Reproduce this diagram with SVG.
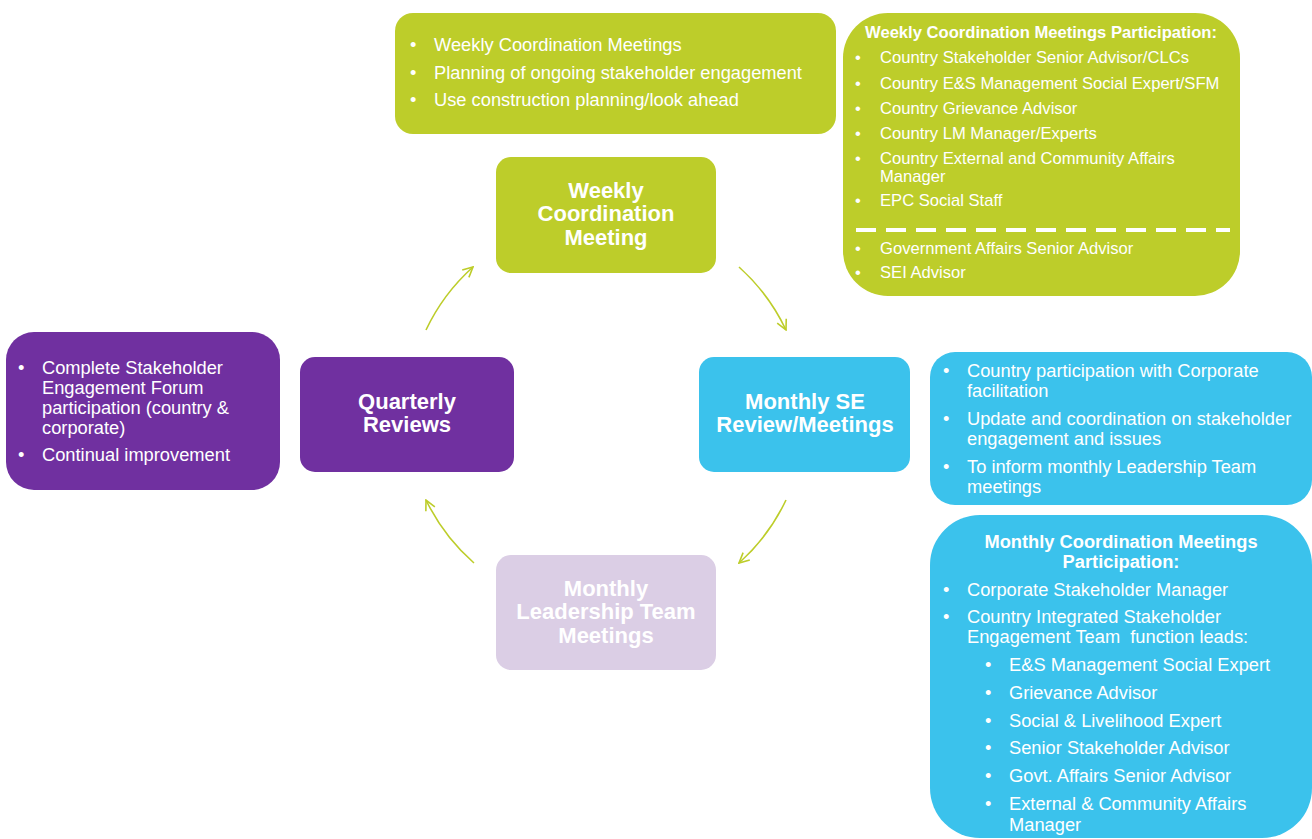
<svg xmlns="http://www.w3.org/2000/svg" width="1312" height="839" viewBox="0 0 1312 839">
<defs>
<style>
.t{font-family:"Liberation Sans",Arial,sans-serif;fill:#fff;font-size:18.3px}
.b{font-weight:bold}
.n{font-family:"Liberation Sans",Arial,sans-serif;fill:#fff;font-size:22px;font-weight:bold;text-anchor:middle}
.p{font-size:16.6px}
.lime{fill:#BDCD2A}
.purple{fill:#7030A0}
.blue{fill:#3BC2EC}
.lav{fill:#DBCEE5}
.arc{fill:none;stroke:#BDCD2A;stroke-width:1.6}
</style>
<marker id="ah" viewBox="0 0 12 12" refX="11" refY="6" markerWidth="12" markerHeight="12" markerUnits="userSpaceOnUse" orient="auto">
<path d="M1,1 L11,6 L1,11" fill="none" stroke="#BDCD2A" stroke-width="1.6"/>
</marker>
</defs>
<rect width="1312" height="839" fill="#fff"/>

<g id="connectors">
<path class="arc" d="M426,330 A199,199 0 0 1 473,267" marker-end="url(#ah)"/>
<path class="arc" d="M739,267 A199,199 0 0 1 786,330" marker-end="url(#ah)"/>
<path class="arc" d="M786,500 A199,199 0 0 1 739,563" marker-end="url(#ah)"/>
<path class="arc" d="M474,563 A199,199 0 0 1 426,500" marker-end="url(#ah)"/>
</g>

<g id="weekly-notes">
<rect class="lime" x="395" y="13" width="441" height="121" rx="18"/>
<text class="t"><tspan x="410" y="51">•</tspan><tspan x="434" y="51">Weekly Coordination Meetings</tspan></text>
<text class="t"><tspan x="410" y="79">•</tspan><tspan x="434" y="79">Planning of ongoing stakeholder engagement</tspan></text>
<text class="t"><tspan x="410" y="106">•</tspan><tspan x="434" y="106">Use construction planning/look ahead</tspan></text>
</g>

<g id="weekly-participation">
<rect class="lime" x="843" y="13" width="397" height="283" rx="45"/>
<text class="t b p" x="1041" y="38" text-anchor="middle">Weekly Coordination Meetings Participation:</text>
<g class="t p">
<text x="855" y="63">•</text><text x="880" y="63">Country Stakeholder Senior Advisor/CLCs</text>
<text x="855" y="89">•</text><text x="880" y="89">Country E&amp;S Management Social Expert/SFM</text>
<text x="855" y="114">•</text><text x="880" y="114">Country Grievance Advisor</text>
<text x="855" y="139">•</text><text x="880" y="139">Country LM Manager/Experts</text>
<text x="855" y="164">•</text><text x="880" y="164">Country External and Community Affairs</text>
<text x="880" y="182">Manager</text>
<text x="855" y="206">•</text><text x="880" y="206">EPC Social Staff</text>
<text x="855" y="254">•</text><text x="880" y="254">Government Affairs Senior Advisor</text>
<text x="855" y="278">•</text><text x="880" y="278">SEI Advisor</text>
</g>
<line x1="856" y1="230" x2="1230" y2="230" stroke="#fff" stroke-width="4" stroke-dasharray="20,10"/>
</g>

<g id="weekly-node">
<rect class="lime" x="496" y="157" width="220" height="116" rx="15"/>
<text class="n"><tspan x="606" y="198">Weekly</tspan><tspan x="606" y="221">Coordination</tspan><tspan x="606" y="245">Meeting</tspan></text>
</g>

<g id="quarterly-node">
<rect class="purple" x="300" y="357" width="214" height="115" rx="15"/>
<text class="n"><tspan x="407" y="409">Quarterly</tspan><tspan x="407" y="432">Reviews</tspan></text>
</g>

<g id="quarterly-notes">
<rect class="purple" x="6" y="332" width="274" height="158" rx="28"/>
<g class="t">
<text x="18" y="374">•</text><text x="42" y="374">Complete Stakeholder</text>
<text x="42" y="394">Engagement Forum</text>
<text x="42" y="414">participation (country &amp;</text>
<text x="42" y="434">corporate)</text>
<text x="18" y="461">•</text><text x="42" y="461">Continual improvement</text>
</g>
</g>

<g id="monthly-se-node">
<rect class="blue" x="699" y="357" width="211" height="115" rx="15"/>
<text class="n"><tspan x="805" y="409">Monthly SE</tspan><tspan x="805" y="432">Review/Meetings</tspan></text>
</g>

<g id="monthly-se-notes">
<rect class="blue" x="930" y="352" width="382" height="153" rx="25"/>
<g class="t">
<text x="943" y="377">•</text><text x="967" y="377">Country participation with Corporate</text>
<text x="967" y="397">facilitation</text>
<text x="943" y="425">•</text><text x="967" y="425">Update and coordination on stakeholder</text>
<text x="967" y="445">engagement and issues</text>
<text x="943" y="473">•</text><text x="967" y="473">To inform monthly Leadership Team</text>
<text x="967" y="493">meetings</text>
</g>
</g>

<g id="monthly-participation">
<rect class="blue" x="930" y="515" width="382" height="323" rx="50"/>
<text class="t b" text-anchor="middle"><tspan x="1121" y="548">Monthly Coordination Meetings</tspan><tspan x="1121" y="568">Participation:</tspan></text>
<g class="t">
<text x="943" y="596">•</text><text x="967" y="596">Corporate Stakeholder Manager</text>
<text x="943" y="623">•</text><text x="967" y="623">Country Integrated Stakeholder</text>
<text x="967" y="643" style="white-space:pre">Engagement Team  function leads:</text>
<text x="985" y="671">•</text><text x="1009" y="671">E&amp;S Management Social Expert</text>
<text x="985" y="699">•</text><text x="1009" y="699">Grievance Advisor</text>
<text x="985" y="727">•</text><text x="1009" y="727">Social &amp; Livelihood Expert</text>
<text x="985" y="754">•</text><text x="1009" y="754">Senior Stakeholder Advisor</text>
<text x="985" y="782">•</text><text x="1009" y="782">Govt. Affairs Senior Advisor</text>
<text x="985" y="810">•</text><text x="1009" y="810">External &amp; Community Affairs</text>
<text x="1009" y="831">Manager</text>
</g>
</g>

<g id="leadership-node">
<rect class="lav" x="496" y="555" width="220" height="115" rx="15"/>
<text class="n"><tspan x="606" y="596">Monthly</tspan><tspan x="606" y="619">Leadership Team</tspan><tspan x="606" y="643">Meetings</tspan></text>
</g>
</svg>
